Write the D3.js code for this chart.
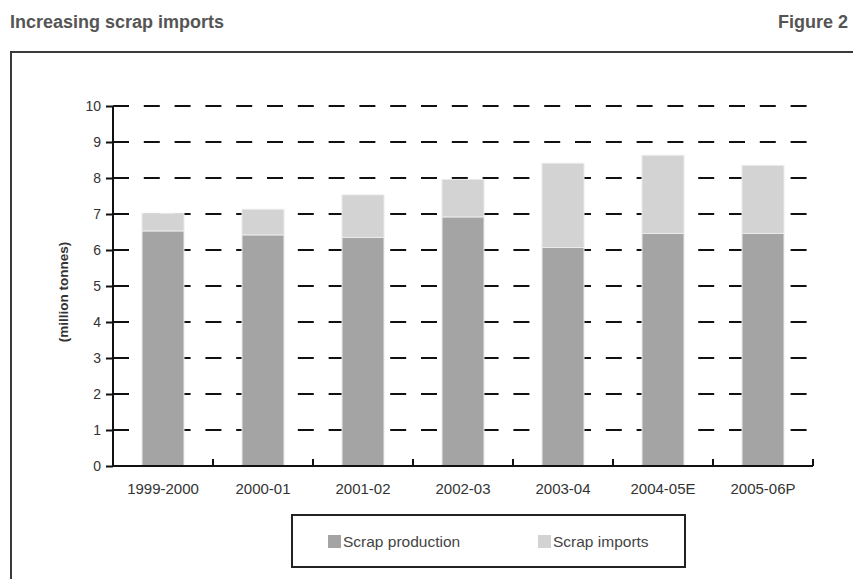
<!DOCTYPE html>
<html>
<head>
<meta charset="utf-8">
<script src="https://cdn.jsdelivr.net/npm/d3@7"></script>
<style>
  html, body { margin: 0; padding: 0; background: #fff; }
  svg { display: block; }
  text { font-family: "Liberation Sans", Arial, Helvetica, sans-serif; }
</style>
</head>
<body>
<svg id="chart" width="853" height="579"></svg>
<script>
// Scrap supply, million tonnes
const years = ["1999-2000", "2000-01", "2001-02", "2002-03", "2003-04", "2004-05E", "2005-06P"];
const scrapProduction = [6.53, 6.42, 6.35, 6.92, 6.07, 6.46, 6.46];
const scrapImports = [0.49, 0.71, 1.18, 1.04, 2.34, 2.17, 1.89];
const yTicks = [0, 1, 2, 3, 4, 5, 6, 7, 8, 9, 10];
const seriesNames = ["Scrap production", "Scrap imports"];
const seriesColors = ["#a4a4a4", "#d3d3d3"];

const svg = d3.select("#chart");

// Heading line
svg.append("text")
  .attr("x", 10).attr("y", 28)
  .attr("font-size", 18).attr("font-weight", "bold").attr("fill", "#555")
  .text("Increasing scrap imports");
svg.append("text")
  .attr("x", 848).attr("y", 28).attr("text-anchor", "end")
  .attr("font-size", 18).attr("font-weight", "bold").attr("fill", "#555")
  .text("Figure 2");

// Panel frame (open to the right and bottom)
svg.append("path")
  .attr("d", "M11,600 L11,52 L860,52")
  .attr("fill", "none").attr("stroke", "#3a3a3a").attr("stroke-width", 2);

const plotLeft = 113, plotRight = 813, plotTop = 106, plotBottom = 466;

const x = d3.scaleBand().domain(years).range([plotLeft, plotRight])
  .paddingInner(0.58).paddingOuter(0.29);
const xOuter = d3.scaleBand().domain(years).range([plotLeft, plotRight]).padding(0);
const y = d3.scaleLinear().domain([0, 10]).range([plotBottom, plotTop]);

// Dashed gridlines
svg.append("g").selectAll("line")
  .data(yTicks.filter(d => d > 0))
  .join("line")
  .attr("x1", plotLeft).attr("x2", plotRight - 6)
  .attr("y1", d => y(d)).attr("y2", d => y(d))
  .attr("stroke", "#111").attr("stroke-width", 2)
  .attr("stroke-dasharray", "16,14.8");

// Stacked bars
const rows = years.map((yr, i) => ({ year: yr, "Scrap production": scrapProduction[i], "Scrap imports": scrapImports[i] }));
const stacked = d3.stack().keys(seriesNames)(rows);

svg.append("g").selectAll("g")
  .data(stacked)
  .join("g")
  .attr("fill", (d, i) => seriesColors[i])
  .selectAll("rect")
  .data(d => d)
  .join("rect")
  .attr("x", d => x(d.data.year))
  .attr("width", x.bandwidth())
  .attr("y", d => y(d[1]))
  .attr("height", d => y(d[0]) - y(d[1]))
  .attr("stroke", "#eaeaea").attr("stroke-width", 1);

// Y axis
const yAxis = svg.append("g")
  .attr("transform", `translate(${plotLeft},0)`)
  .call(d3.axisLeft(y).tickValues(yTicks).tickSize(7).tickPadding(5).tickFormat(d3.format("d")));
yAxis.select(".domain").attr("stroke", "#111").attr("stroke-width", 2)
  .attr("d", `M0,${plotBottom}V${plotTop}`);
yAxis.selectAll(".tick line").attr("stroke", "#111").attr("stroke-width", 2);
yAxis.selectAll(".tick text")
  .attr("font-family", "Liberation Sans, Arial, sans-serif")
  .attr("font-size", 14).attr("fill", "#333");

// X axis with category boundary ticks pointing up
const xAxisG = svg.append("g");
xAxisG.append("line")
  .attr("x1", plotLeft - 1).attr("x2", plotRight)
  .attr("y1", plotBottom).attr("y2", plotBottom)
  .attr("stroke", "#111").attr("stroke-width", 2);
xAxisG.selectAll(".bound")
  .data(years.slice(1).concat(["__end"]))
  .join("line")
  .attr("class", "bound")
  .attr("x1", (d, i) => i < years.length - 1 ? xOuter(d) : plotRight)
  .attr("x2", (d, i) => i < years.length - 1 ? xOuter(d) : plotRight)
  .attr("y1", plotBottom).attr("y2", plotBottom - 7)
  .attr("stroke", "#111").attr("stroke-width", 2);
xAxisG.selectAll(".xl")
  .data(years)
  .join("text")
  .attr("class", "xl")
  .attr("x", d => x(d) + x.bandwidth() / 2)
  .attr("y", 494)
  .attr("text-anchor", "middle")
  .attr("font-size", 15).attr("fill", "#333")
  .text(d => d);

// Y axis title
svg.append("text")
  .attr("transform", `translate(68,${(plotTop + plotBottom) / 2 + 6}) rotate(-90)`)
  .attr("text-anchor", "middle")
  .attr("font-size", 13.5).attr("font-weight", "bold").attr("fill", "#333")
  .text("(million tonnes)");

// Legend
const legend = svg.append("g");
legend.append("rect")
  .attr("x", 292).attr("y", 515).attr("width", 393).attr("height", 52)
  .attr("fill", "#fff").attr("stroke", "#222").attr("stroke-width", 2);
const legendX = [328, 538];
const items = legend.selectAll(".item")
  .data(seriesNames)
  .join("g")
  .attr("class", "item")
  .attr("transform", (d, i) => `translate(${legendX[i]},535)`);
items.append("rect")
  .attr("width", 13).attr("height", 13)
  .attr("fill", (d, i) => seriesColors[i]);
items.append("text")
  .attr("x", 15).attr("y", 12)
  .attr("font-size", 15.5).attr("fill", "#444")
  .text(d => d);
</script>
</body>
</html>
